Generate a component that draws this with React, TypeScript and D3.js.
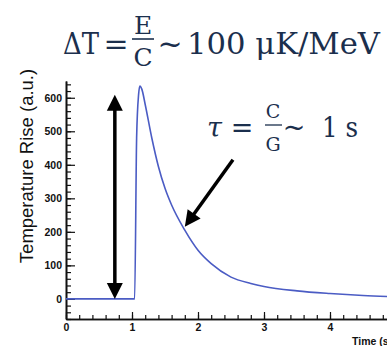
import React, { useRef, useEffect } from 'react';
import * as d3 from 'd3';

// pulse: time (s) vs temperature rise (a.u.)
const times = [0, 1.04, 1.07, 1.1, 1.12, 1.15, 1.2, 1.3, 1.4, 1.5, 1.6, 1.8, 2.0, 2.2, 2.5, 2.8, 3.0, 3.5, 4.0, 4.5, 5.0];
const rise = [0, 0, 480, 610, 635, 625, 580, 480, 395, 330, 280, 205, 145, 105, 65, 46, 37, 24, 16, 10, 6];

const yMajor = [0, 100, 200, 300, 400, 500, 600];
const xMajor = [0, 1, 2, 3, 4];

// annotation arrows in data units
const amplitudeArrow = { t: 0.74, from: 0, to: 609 };
const decayArrow = { t0: 2.53, v0: 415, t1: 1.8, v1: 215 };

const W = 387;
const H = 346;
const ink = '#1b2f4d';
const lineColor = '#4b5cc4';

function arrowHead(x: number, y: number, angle: number, len = 16, half = 8) {
  // tip at (x,y), pointing along angle
  const bx = x - len * Math.cos(angle);
  const by = y - len * Math.sin(angle);
  const px = -Math.sin(angle) * half;
  const py = Math.cos(angle) * half;
  return `M${x},${y}L${bx + px},${by + py}L${bx - px},${by - py}Z`;
}

export default function App() {
  const xAxisEl = useRef<SVGGElement>(null);
  const xMinorEl = useRef<SVGGElement>(null);
  const yAxisEl = useRef<SVGGElement>(null);
  const yMinorEl = useRef<SVGGElement>(null);

  const x = d3.scaleLinear().domain([0, 5]).range([66, 396]);
  const y = d3.scaleLinear().domain([-60, 650]).range([319, 81]);

  const line = d3
    .line<number>()
    .x((_, i) => x(times[i]))
    .y((d) => y(d))
    .curve(d3.curveMonotoneX);

  useEffect(() => {
    d3.select(yMinorEl.current!).call(
      d3.axisLeft(y).tickValues(d3.range(-60, 651, 20)).tickSize(-5).tickSizeOuter(0).tickFormat(() => '')
    );
    d3.select(yAxisEl.current!).call(
      d3.axisLeft(y).tickValues(yMajor).tickSize(-9).tickSizeOuter(0).tickPadding(4).tickFormat(d3.format('d'))
    );
    d3.select(xMinorEl.current!).call(
      d3.axisBottom(x).tickValues(d3.range(0, 5.01, 0.2)).tickSize(-4).tickSizeOuter(0).tickFormat(() => '')
    );
    d3.select(xAxisEl.current!).call(
      d3.axisBottom(x).tickValues(xMajor).tickSize(-7).tickSizeOuter(0).tickPadding(5).tickFormat(d3.format('d'))
    );
    for (const el of [xAxisEl, xMinorEl, yAxisEl, yMinorEl]) {
      const g = d3.select(el.current!);
      g.selectAll('path.domain').attr('stroke', '#111').attr('stroke-width', 1.6);
      g.selectAll('.tick line').attr('stroke', '#111').attr('stroke-width', 1.2);
      g.selectAll('.tick text')
        .attr('fill', '#111')
        .style('font-family', '"Liberation Sans", Arial, sans-serif')
        .style('font-weight', 'bold')
        .style('font-size', '10.5px');
    }
  }, []);

  const ax = x(amplitudeArrow.t);
  const ay0 = y(amplitudeArrow.from);
  const ay1 = y(amplitudeArrow.to);

  const dx0 = x(decayArrow.t0);
  const dy0 = y(decayArrow.v0);
  const dx1 = x(decayArrow.t1);
  const dy1 = y(decayArrow.v1);
  const dAng = Math.atan2(dy1 - dy0, dx1 - dx0);

  const serif = '"DejaVu Serif", "Liberation Serif", serif';

  return (
    <svg width={W} height={H} style={{ position: 'absolute', left: 0, top: 0, background: '#fff' }}>
      <rect width={W} height={H} fill="#fff" />

      <g ref={yMinorEl} transform="translate(66,0)" />
      <g ref={yAxisEl} transform="translate(66,0)" />
      <g ref={xMinorEl} transform="translate(0,319)" />
      <g ref={xAxisEl} transform="translate(0,319)" />

      <text
        transform="translate(33,166) rotate(-90)"
        textAnchor="middle"
        fontFamily='"Liberation Sans", Arial, sans-serif'
        fontSize={18.5}
        fill="#111"
      >
        Temperature Rise (a.u.)
      </text>
      <text x={352} y={345} fontFamily='"Liberation Sans", Arial, sans-serif' fontWeight="bold" fontSize={10.5} fill="#111">
        Time (s)
      </text>

      <path d={line(rise) ?? ''} fill="none" stroke={lineColor} strokeWidth={1.6} />

      {/* amplitude double arrow */}
      <line x1={ax} x2={ax} y1={ay1 + 12} y2={ay0 - 12} stroke="#000" strokeWidth={3.5} />
      <path d={arrowHead(ax, ay1, -Math.PI / 2)} fill="#000" />
      <path d={arrowHead(ax, ay0, Math.PI / 2)} fill="#000" />

      {/* decay arrow */}
      <line
        x1={dx0}
        y1={dy0}
        x2={dx1 - 12 * Math.cos(dAng)}
        y2={dy1 - 12 * Math.sin(dAng)}
        stroke="#000"
        strokeWidth={3.5}
      />
      <path d={arrowHead(dx1, dy1, dAng)} fill="#000" />

      {/* ΔT = E/C ~ 100 μK/MeV */}
      <g fill={ink} fontFamily={serif}>
        <text x={63} y={54} fontSize={30} textLength={36} lengthAdjust="spacingAndGlyphs">ΔT</text>
        <text x={116} y={54} fontSize={30} textAnchor="middle">=</text>
        <text x={143} y={34} fontSize={25} textAnchor="middle">E</text>
        <line x1={132} x2={154} y1={39} y2={39} stroke={ink} strokeWidth={1.6} />
        <text x={143} y={66} fontSize={25} textAnchor="middle">C</text>
        <text x={170} y={54} fontSize={30} textAnchor="middle">~</text>
        <text x={187} y={54} fontSize={30} textLength={193} lengthAdjust="spacingAndGlyphs">100 μK/MeV</text>
      </g>

      {/* τ = C/G ~ 1 s */}
      <g fill={ink} fontFamily={serif}>
        <text x={207} y={137} fontSize={27} fontStyle="italic">τ</text>
        <text x={242} y={137} fontSize={27} textAnchor="middle">=</text>
        <text x={273} y={118} fontSize={19} textAnchor="middle">C</text>
        <line x1={265} x2={282} y1={125} y2={125} stroke={ink} strokeWidth={1.3} />
        <text x={273} y={151} fontSize={19} textAnchor="middle">G</text>
        <text x={294} y={137} fontSize={27} textAnchor="middle">~</text>
        <text x={322} y={137} fontSize={27} textLength={36} lengthAdjust="spacingAndGlyphs">1 s</text>
      </g>
    </svg>
  );
}
